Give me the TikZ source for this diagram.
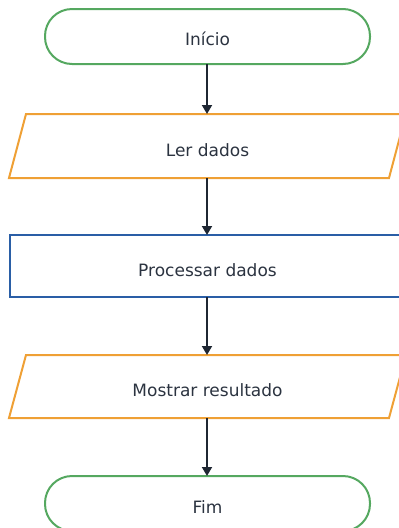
\documentclass[tikz,border=0pt]{standalone}
\usepackage{fontspec}
\setmainfont{DejaVu Sans}
\usetikzlibrary{arrows.meta}
\definecolor{termgreen}{HTML}{55A860}
\definecolor{ioorange}{HTML}{EFA035}
\definecolor{procblue}{HTML}{2A5EA6}
\definecolor{txtgray}{HTML}{2B3340}
\definecolor{arrowdark}{HTML}{1F2733}
\tikzset{
  shapeline/.style={line width=2pt},
  lbl/.style={text=txtgray, font=\fontsize{17}{20}\selectfont, inner sep=0pt},
  conn/.style={draw=arrowdark, line width=1.8pt, -{Triangle[length=9pt,width=10pt]}},
}
\begin{document}
\begin{tikzpicture}[x=1pt,y=-1pt]
\useasboundingbox (0,0) rectangle (399,528);
% Inicio
\draw[shapeline, termgreen, rounded corners=27pt] (45,9) rectangle (370,64);
\coordinate (inicioB) at (207,64);
\node[lbl] (inicio) at (207.5,39) {Início};
% Ler dados
\draw[shapeline, ioorange] (26,114) -- (406,114) -- (389,178) -- (9,178) -- cycle;
\coordinate (lerT) at (207,114);
\coordinate (lerB) at (207,178);
\node[lbl] (ler) at (207.5,150) {Ler dados};
% Processar dados
\draw[shapeline, procblue] (9.5,235) rectangle (410,297);
\coordinate (procT) at (207,235);
\coordinate (procB) at (207,297);
\node[lbl] (proc) at (207.5,270) {Processar dados};
% Mostrar resultado
\draw[shapeline, ioorange] (26,355) -- (406,355) -- (389,418) -- (9,418) -- cycle;
\coordinate (mostT) at (207,355);
\coordinate (mostB) at (207,418);
\node[lbl] (most) at (207.5,390) {Mostrar resultado};
% Fim
\draw[shapeline, termgreen, rounded corners=27pt] (45,476) rectangle (370,531);
\coordinate (fimT) at (207,476);
\node[lbl] (fim) at (207.5,507) {Fim};
% connectors
\draw[conn] (inicioB) -- (lerT);
\draw[conn] (lerB) -- (procT);
\draw[conn] (procB) -- (mostT);
\draw[conn] (mostB) -- (fimT);
\end{tikzpicture}
\end{document}
